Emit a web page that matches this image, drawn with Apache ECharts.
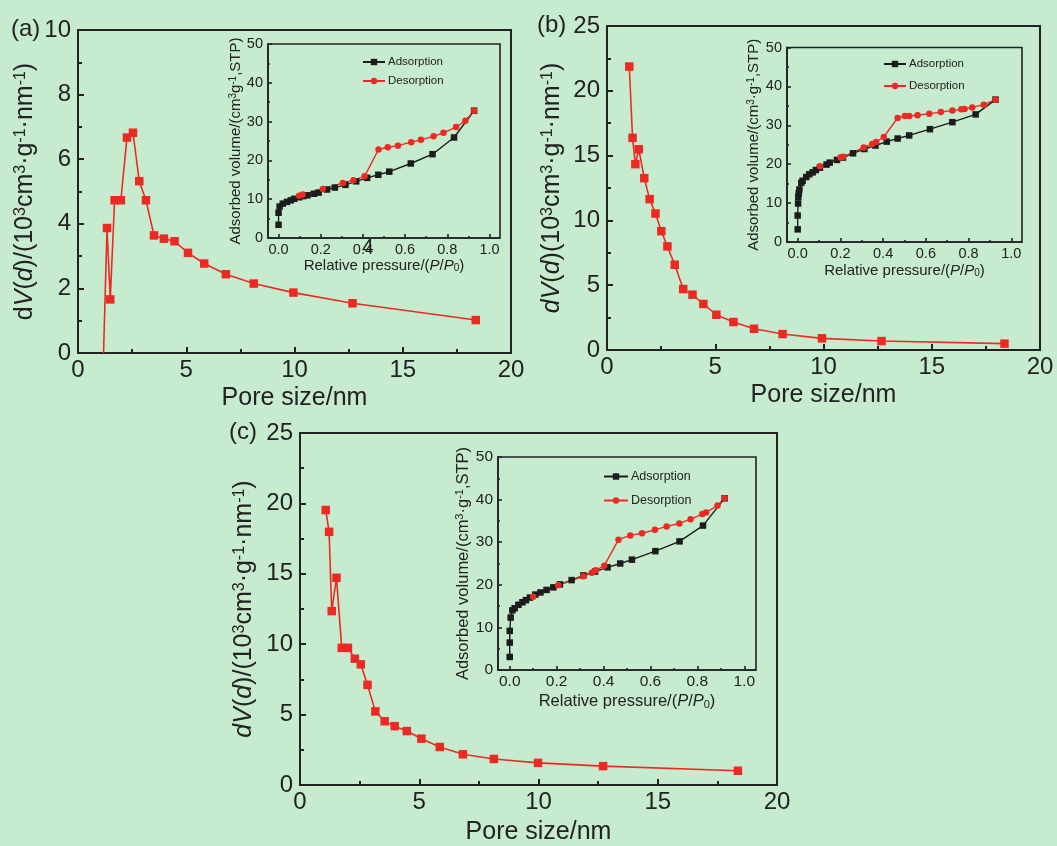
<!DOCTYPE html>
<html>
<head>
<meta charset="utf-8">
<script src="https://cdn.jsdelivr.net/npm/echarts@6/dist/echarts.min.js"></script>
<style>
  html, body { margin: 0; padding: 0; background: #c7ebce; }
  #chart { width: 1057px; height: 846px; }
</style>
</head>
<body>
<div id="chart"></div>
<script>
// Pore size distribution curves (main panels)
const poreA = [1.18, 1.34, 1.49, 1.69, 1.98, 2.26, 2.54, 2.83, 3.14, 3.51, 3.97, 4.46, 5.08, 5.83, 6.83, 8.12, 9.95, 12.68, 18.37];
const dvA   = [0, 3.87, 1.66, 4.73, 4.73, 6.67, 6.82, 5.32, 4.73, 3.64, 3.54, 3.46, 3.10, 2.77, 2.44, 2.15, 1.87, 1.54, 1.02];

const poreB = [1.03, 1.18, 1.31, 1.47, 1.72, 1.97, 2.24, 2.51, 2.79, 3.13, 3.52, 3.95, 4.45, 5.05, 5.84, 6.79, 8.11, 9.93, 12.68, 18.36];
const dvB   = [21.87, 16.37, 14.34, 15.49, 13.26, 11.64, 10.53, 9.17, 7.99, 6.58, 4.70, 4.27, 3.55, 2.72, 2.16, 1.64, 1.23, 0.90, 0.69, 0.49];

const poreC = [1.08, 1.22, 1.33, 1.53, 1.75, 2.01, 2.30, 2.55, 2.83, 3.16, 3.55, 3.97, 4.48, 5.09, 5.86, 6.83, 8.13, 9.98, 12.71, 18.36];
const dvC   = [19.53, 17.98, 12.35, 14.72, 9.74, 9.74, 8.97, 8.57, 7.11, 5.23, 4.53, 4.18, 3.83, 3.29, 2.70, 2.18, 1.85, 1.57, 1.34, 1.01];

// N2 isotherms (insets)
const adsPA = [0, 0, 0.005, 0.02, 0.04, 0.058, 0.074, 0.098, 0.117, 0.137, 0.168, 0.19, 0.23, 0.267, 0.317, 0.368, 0.42, 0.473, 0.525, 0.627, 0.73, 0.832, 0.927];
const adsVA = [3.4, 6.5, 8.1, 8.85, 9.3, 9.7, 10.1, 10.5, 10.8, 11.0, 11.4, 11.7, 12.5, 13.0, 13.7, 14.6, 15.5, 16.3, 17.1, 19.2, 21.6, 25.9, 32.8];
const desPA = [0.927, 0.886, 0.842, 0.782, 0.735, 0.675, 0.629, 0.566, 0.518, 0.474, 0.408, 0.355, 0.305, 0.210, 0.114, 0.098];
const desVA = [32.8, 30.2, 28.6, 27.1, 26.2, 25.3, 24.7, 23.8, 23.4, 22.8, 15.9, 14.9, 14.2, 12.6, 11.2, 10.9];

const adsPB = [0, 0, 0.002, 0.003, 0.005, 0.008, 0.017, 0.023, 0.04, 0.054, 0.07, 0.085, 0.104, 0.135, 0.150, 0.184, 0.212, 0.259, 0.312, 0.364, 0.417, 0.468, 0.522, 0.619, 0.724, 0.833, 0.926];
const adsVB = [3.25, 6.8, 9.9, 11.6, 12.5, 13.5, 15.2, 15.75, 16.7, 17.4, 17.9, 18.5, 19.1, 19.9, 20.4, 21.1, 21.7, 22.8, 23.9, 24.8, 25.8, 26.6, 27.4, 29.0, 30.8, 32.8, 36.6];
const desPB = [0.926, 0.871, 0.817, 0.781, 0.766, 0.724, 0.670, 0.616, 0.561, 0.522, 0.502, 0.468, 0.403, 0.367, 0.349, 0.309, 0.212, 0.200, 0.104];
const desVB = [36.6, 35.3, 34.6, 34.2, 34.1, 33.8, 33.4, 33.0, 32.6, 32.4, 32.4, 31.9, 27.0, 25.7, 25.2, 24.3, 21.9, 21.7, 19.5];

const adsPC = [0, 0, 0, 0.004, 0.011, 0.021, 0.037, 0.054, 0.069, 0.086, 0.109, 0.131, 0.157, 0.186, 0.214, 0.264, 0.314, 0.364, 0.417, 0.471, 0.521, 0.621, 0.724, 0.824, 0.916];
const adsVC = [3.06, 6.44, 9.18, 12.3, 14.0, 14.5, 15.3, 15.9, 16.4, 17.0, 17.7, 18.2, 18.8, 19.4, 20.1, 21.1, 22.2, 23.1, 24.1, 25.0, 25.9, 27.9, 30.2, 33.9, 40.3];
const desPC = [0.916, 0.886, 0.837, 0.821, 0.771, 0.723, 0.669, 0.619, 0.564, 0.514, 0.464, 0.403, 0.367, 0.35, 0.314, 0.207, 0.1];
const desVC = [40.3, 38.6, 37.0, 36.6, 35.4, 34.4, 33.7, 32.9, 32.1, 31.6, 30.6, 24.5, 23.4, 22.8, 22.0, 19.9, 17.2];

// Axis tick values
const pressureTicks = [0, 0.2, 0.4, 0.6, 0.8, 1.0];
const pressureMinor = [0.1, 0.3, 0.5, 0.7, 0.9];

const FONT = '"Liberation Sans", Arial, sans-serif';
const INK = '#222';
const RED = '#ec2a24';
const BLACK = '#1c1c1c';

const zip = (xs, ys) => xs.map((x, i) => [x, ys[i]]);

// ---- Layout ----
const grids = [
  { left: 78,    top: 30,    width: 433, height: 323 },   // a main
  { left: 268,   top: 44,    width: 232, height: 194 },   // a inset
  { left: 607,   top: 26,    width: 433, height: 324 },   // b main
  { left: 787,   top: 47.5,  width: 235, height: 194.5 }, // b inset
  { left: 300,   top: 433,   width: 477, height: 355 },   // c main
  { left: 498,   top: 457,   width: 258, height: 213 }    // c inset
].map(g => Object.assign({ show: true, borderColor: INK, borderWidth: 2, backgroundColor: 'transparent', containLabel: false }, g));
grids[1].borderWidth = 1.6; grids[3].borderWidth = 1.6; grids[5].borderWidth = 1.6;

// ---- Rich text for axis titles ----
function mainRich(fs) {
  return {
    n: { fontSize: fs, fontFamily: FONT, color: INK },
    i: { fontSize: fs, fontFamily: FONT, color: INK, fontStyle: 'italic' },
    s: { fontSize: Math.round(fs * 0.62), fontFamily: FONT, color: INK, verticalAlign: 'top' }
  };
}
function insetRich(fs) {
  return {
    n: { fontSize: fs, fontFamily: FONT, color: INK },
    i: { fontSize: fs, fontFamily: FONT, color: INK, fontStyle: 'italic' },
    s: { fontSize: Math.round(fs * 0.65), fontFamily: FONT, color: INK, verticalAlign: 'top' },
    b: { fontSize: Math.round(fs * 0.65), fontFamily: FONT, color: INK, verticalAlign: 'bottom' }
  };
}

const yTitleA = '{n|d}{i|V}{n|(}{i|d}{n|)/(10}{s|3}{n|cm}{s|3}{n|·g}{s|-1}{n|·nm}{s|-1}{n|)}';
const yTitleB = '{i|dV}{n|(}{i|d}{n|)(10}{s|3}{n|cm}{s|3}{n|·g}{s|-1}{n|·nm}{s|-1}{n|)}';
const yTitleC = '{i|dV}{n|(}{i|d}{n|)/(10}{s|3}{n|cm}{s|3}{n|·g}{s|-1}{n|·nm}{s|-1}{n|)}';
const xTitleMain = 'Pore size/nm';
const insetYTitleA = '{n|Adsorbed volume/(cm}{s|3}{n|g}{s|-1}{n|,STP)}';
const insetYTitleBC = '{n|Adsorbed volume/(cm}{s|3}{n|·g}{s|-1}{n|,STP)}';
const insetXTitle = '{n|Relative pressure/(}{i|P}{n|/}{i|P}{b|0}{n|)}';

// ---- Axis builders ----
function mainX(gi, gap) {
  return {
    type: 'value', gridIndex: gi, min: 0, max: 20, interval: 5,
    name: xTitleMain, nameLocation: 'middle', nameGap: gap,
    nameTextStyle: { fontSize: 25, fontFamily: FONT, color: INK },
    axisLine: { show: true, onZero: false, lineStyle: { color: INK, width: 2 } },
    axisTick: { show: true, inside: true, length: 6, lineStyle: { color: INK, width: 2 } },
    minorTick: { show: true, splitNumber: 2, length: 4, lineStyle: { color: INK, width: 2 } },
    axisLabel: { fontSize: 24, fontFamily: FONT, color: INK, margin: 5 },
    splitLine: { show: false }
  };
}
function mainY(gi, max, interval, title, gap) {
  return {
    type: 'value', gridIndex: gi, min: 0, max: max, interval: interval,
    name: title, nameLocation: 'middle', nameGap: gap, nameRotate: 90,
    nameTextStyle: { rich: mainRich(25) },
    axisLine: { show: true, onZero: false, lineStyle: { color: INK, width: 2 } },
    axisTick: { show: true, inside: true, length: 6, lineStyle: { color: INK, width: 2 } },
    minorTick: { show: true, splitNumber: 2, length: 4, lineStyle: { color: INK, width: 2 } },
    axisLabel: { fontSize: 24, fontFamily: FONT, color: INK, margin: 7 },
    splitLine: { show: false }
  };
}
function insetX(gi, fs, tfs, gap) {
  return {
    type: 'value', gridIndex: gi, min: -0.05, max: 1.05, position: 'bottom',
    name: insetXTitle, nameLocation: 'middle', nameGap: gap,
    nameTextStyle: { rich: insetRich(tfs) },
    axisLine: { show: true, onZero: false, lineStyle: { color: INK, width: 1.6 } },
    axisTick: { show: true, inside: true, length: 4, customValues: pressureTicks, lineStyle: { color: INK, width: 1.6 } },
    axisLabel: { fontSize: fs, fontFamily: FONT, color: INK, margin: 4, customValues: pressureTicks,
                 formatter: v => v.toFixed(1) },
    splitLine: { show: false }
  };
}
function insetXMinor(gi) {
  return {
    type: 'value', gridIndex: gi, min: -0.05, max: 1.05, position: 'bottom', offset: 0,
    axisLine: { show: false },
    axisTick: { show: true, inside: true, length: 2, customValues: pressureMinor, lineStyle: { color: INK, width: 1.6 } },
    axisLabel: { show: false },
    splitLine: { show: false }
  };
}
function insetY(gi, fs, tfs, title, gap) {
  return {
    type: 'value', gridIndex: gi, min: 0, max: 50, interval: 10,
    name: title, nameLocation: 'middle', nameGap: gap, nameRotate: 90,
    nameTextStyle: { rich: insetRich(tfs) },
    axisLine: { show: true, onZero: false, lineStyle: { color: INK, width: 1.6 } },
    axisTick: { show: true, inside: true, length: 4, lineStyle: { color: INK, width: 1.6 } },
    minorTick: { show: true, splitNumber: 2, length: 2, lineStyle: { color: INK, width: 1.6 } },
    axisLabel: { fontSize: fs, fontFamily: FONT, color: INK, margin: 5 },
    splitLine: { show: false }
  };
}

const xAxes = [
  mainX(0, 33),                // 0
  insetX(1, 14.5, 15, 19),     // 1
  mainX(2, 33),                // 2
  insetX(3, 14.5, 15, 21),     // 3
  mainX(4, 35),                // 4
  insetX(5, 15.5, 16.5, 23),   // 5
  insetXMinor(1),              // 6
  insetXMinor(3),              // 7
  insetXMinor(5)               // 8
];
const yAxes = [
  mainY(0, 10, 2, yTitleA, 40),
  insetY(1, 14.5, 15, insetYTitleA, 23),
  mainY(2, 25, 5, yTitleB, 42),
  insetY(3, 14.5, 15, insetYTitleBC, 26),
  mainY(4, 25, 5, yTitleC, 43),
  insetY(5, 15.5, 16.5, insetYTitleBC, 26)
];

// ---- Series ----
function mainSeries(ax, xs, ys, startsAtZero) {
  const data = zip(xs, ys).map((p, i) =>
    (startsAtZero && i === 0) ? { value: p, symbol: 'none' } : p);
  return {
    type: 'line', xAxisIndex: ax, yAxisIndex: ax, data: data,
    symbol: 'rect', symbolSize: 8.5, clip: false,
    lineStyle: { color: RED, width: 1.6 },
    itemStyle: { color: RED },
    emphasis: { disabled: true }, z: 3
  };
}
function isoSeries(ax, name, xs, ys, color, sym) {
  return {
    type: 'line', name: name, xAxisIndex: ax, yAxisIndex: ax, data: zip(xs, ys),
    symbol: sym, symbolSize: 6.5, clip: false,
    lineStyle: { color: color, width: 1.4 },
    itemStyle: { color: color },
    emphasis: { disabled: true }, z: 4
  };
}

const series = [
  mainSeries(0, poreA, dvA, true),
  mainSeries(2, poreB, dvB, false),
  mainSeries(4, poreC, dvC, false),
  isoSeries(1, 'Adsorption', adsPA, adsVA, BLACK, 'rect'),
  isoSeries(1, 'Desorption', desPA, desVA, RED, 'circle'),
  isoSeries(3, 'Adsorption', adsPB, adsVB, BLACK, 'rect'),
  isoSeries(3, 'Desorption', desPB, desVB, RED, 'circle'),
  isoSeries(5, 'Adsorption', adsPC, adsVC, BLACK, 'rect'),
  isoSeries(5, 'Desorption', desPC, desVC, RED, 'circle')
];

function legendAt(left, top, fs, w, gap) {
  return {
    left: left, top: top, orient: 'vertical', itemWidth: w, itemHeight: 8, itemGap: gap,
    selectedMode: false, padding: 0,
    textStyle: { fontSize: fs, fontFamily: FONT, color: INK, padding: [0, 0, 0, -2] },
    data: ['Adsorption', 'Desorption']
  };
}

const panelLabel = (text, x, y) => ({
  type: 'text', left: x, top: y,
  style: { text: text, fontSize: 24, fontFamily: FONT, fill: INK }
});

const option = {
  backgroundColor: '#c7ebce',
  animation: false,
  grid: grids,
  xAxis: xAxes,
  yAxis: yAxes,
  series: series,
  legend: [
    legendAt(362, 56, 11.5, 22, 7),
    legendAt(883, 58, 11.5, 22, 10),
    legendAt(603, 470, 12.5, 24, 11)
  ],
  graphic: [
    panelLabel('(a)', 11, 17),
    panelLabel('(b)', 537, 13),
    panelLabel('(c)', 229, 420),
    { type: 'text', left: 362, top: 237, style: { text: '4', fontSize: 21, fontFamily: FONT, fill: INK } }
  ]
};

const chart = echarts.init(document.getElementById('chart'), null, { renderer: 'canvas' });
chart.setOption(option);
</script>
</body>
</html>
